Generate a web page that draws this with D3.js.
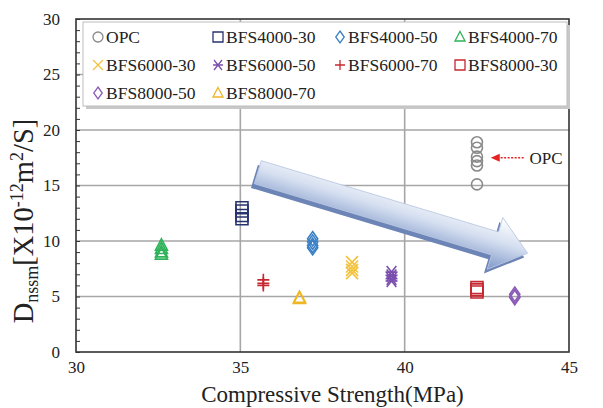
<!DOCTYPE html>
<html>
<head>
<meta charset="utf-8">
<script src="https://cdn.jsdelivr.net/npm/d3@7"></script>
<style>
  body { margin: 0; background: #fff; }
  svg { display: block; }
  text { font-family: "Liberation Serif", "DejaVu Serif", serif; fill: #222; }
</style>
</head>
<body>
<svg id="chart" width="603" height="408"></svg>
<script>
// data
let seriesNames = ['OPC', 'BFS4000-30', 'BFS4000-50', 'BFS4000-70', 'BFS6000-30',
                   'BFS6000-50', 'BFS6000-70', 'BFS8000-30', 'BFS8000-50', 'BFS8000-70']
let strength = [42.2, 35.05, 37.2, 32.6, 38.4, 39.6, 35.7, 42.2, 43.35, 36.8]
let diffusion = [
  [18.9, 18.4, 17.6, 17.2, 16.8, 15.1],
  [13.0, 12.7, 12.3, 12.0],
  [10.2, 9.9, 9.6, 9.4],
  [9.6, 9.3, 9.0, 8.8],
  [8.1, 7.7, 7.4, 7.1],
  [7.2, 6.9, 6.6, 6.4],
  [6.5, 6.2, 6.0],
  [5.8, 5.6, 5.4],
  [5.2, 5.0, 4.9],
  [4.9, 4.8]
]
let xTicks = [30, 35, 40, 45]
let yTicks = [0, 5, 10, 15, 20, 25, 30]

// styles
let colors = ['#8a8a8a', '#283470', '#3a80c6', '#2eb25a', '#f3c23c',
              '#7b4fae', '#c62832', '#c62832', '#8a5cb8', '#f0b624']
let shapes = ['circle', 'square', 'diamond', 'triangle', 'x',
              'asterisk', 'plus', 'square', 'diamond', 'triangle']

let svg = d3.select('#chart')
let plotL = 76, plotT = 19, plotR = 569, plotB = 352

let xScale = d3.scaleLinear().domain([30, 45]).range([plotL, plotR])
let yScale = d3.scaleLinear().domain([0, 30]).range([plotB, plotT])

// marker path, r = half size
let markerPath = (shape, r) => {
  if (shape === 'circle') {
    return d3.symbol(d3.symbolCircle, Math.PI * r * r)()
  } else if (shape === 'square') {
    return `M${-r},${-r}H${r}V${r}H${-r}Z`
  } else if (shape === 'diamond') {
    return `M0,${-r * 1.2}L${r * 0.85},0L0,${r * 1.2}L${-r * 0.85},0Z`
  } else if (shape === 'triangle') {
    return `M0,${-r * 1.1}L${r},${r * 0.8}L${-r},${r * 0.8}Z`
  } else if (shape === 'x') {
    return `M${-r},${-r}L${r},${r}M${r},${-r}L${-r},${r}`
  } else if (shape === 'plus') {
    return `M${-r},0H${r}M0,${-r}V${r}`
  } else {
    return `M${-r * 0.8},${-r}L${r * 0.8},${r}M${r * 0.8},${-r}L${-r * 0.8},${r}M${-r},0H${r}`
  }
}

// grid
svg.append('g')
   .selectAll('line')
   .data(yTicks.filter(d => d > 0 && d < 30))
   .enter()
   .append('line')
   .attr('x1', plotL).attr('x2', plotR)
   .attr('y1', d => yScale(d)).attr('y2', d => yScale(d))
   .attr('stroke', '#a6a6a6').attr('stroke-width', 1.6)
svg.append('g')
   .selectAll('line')
   .data(xTicks.filter(d => d > 30 && d < 45))
   .enter()
   .append('line')
   .attr('y1', plotT).attr('y2', plotB)
   .attr('x1', d => xScale(d)).attr('x2', d => xScale(d))
   .attr('stroke', '#a6a6a6').attr('stroke-width', 1.6)

// minor ticks on the y axis
let yAxis = d3.axisLeft(yScale).tickValues(d3.range(0, 31)).tickSize(-4).tickFormat('')
let gy = svg.append('g').attr('transform', `translate(${plotL},0)`).call(yAxis)
gy.select('.domain').remove()
gy.selectAll('line').attr('stroke', '#333')

// y tick labels
let gyl = svg.append('g').attr('transform', `translate(${plotL},0)`)
             .call(d3.axisLeft(yScale).tickValues(yTicks).tickSize(0).tickPadding(16).tickFormat(d3.format('d')))
gyl.select('.domain').remove()
gyl.selectAll('text').style('font-size', '17px').style('font-family', '"Liberation Serif", serif').attr('fill', '#222')

// x tick labels
let gxl = svg.append('g').attr('transform', `translate(0,${plotB})`)
             .call(d3.axisBottom(xScale).tickValues(xTicks).tickSize(0).tickPadding(9).tickFormat(d3.format('d')))
gxl.select('.domain').remove()
gxl.selectAll('text').style('font-size', '17px').style('font-family', '"Liberation Serif", serif').attr('fill', '#222')

// the big blue arrow
let arrowFrom = [35.53, 16.2]
let arrowTo = [43.74, 8.9]
let defs = svg.append('defs')
let grad = defs.append('linearGradient').attr('id', 'arrowFill')
               .attr('x1', 0).attr('y1', 0).attr('x2', 0).attr('y2', 1)
grad.append('stop').attr('offset', '0%').attr('stop-color', '#ffffff')
grad.append('stop').attr('offset', '45%').attr('stop-color', '#d5dff0')
grad.append('stop').attr('offset', '100%').attr('stop-color', '#7f98c8')

let drawArrow = () => {
  let x0 = xScale(arrowFrom[0]), y0 = yScale(arrowFrom[1])
  let x1 = xScale(arrowTo[0]), y1 = yScale(arrowTo[1])
  let ang = Math.atan2(y1 - y0, x1 - x0) * 180 / Math.PI
  let len = Math.hypot(x1 - x0, y1 - y0)
  let hw = 12, headW = 27, headL = 34
  let pts = [[0, -hw], [len - headL, -hw], [len - headL, -headW], [len, 0],
             [len - headL, headW], [len - headL, hw], [0, hw]]
  let g = svg.append('g').attr('transform', `translate(${x0},${y0}) rotate(${ang})`)
  g.append('path')
   .attr('d', d3.line()(pts) + 'Z')
   .attr('transform', 'translate(-2,5)')
   .attr('fill', '#6d84b6')
  g.append('path')
   .attr('d', d3.line()(pts) + 'Z')
   .attr('fill', 'url(#arrowFill)')
   .attr('stroke', '#b8c7e2').attr('stroke-width', 0.8)
}
drawArrow()

// points
seriesNames.forEach((name, i) => {
  svg.append('g')
     .selectAll('path')
     .data(diffusion[i])
     .enter()
     .append('path')
     .attr('d', markerPath(shapes[i], shapes[i] === 'circle' ? 5.5 : 6))
     .attr('transform', d => `translate(${xScale(strength[i])},${yScale(d)})`)
     .attr('fill', 'none')
     .attr('stroke', colors[i])
     .attr('stroke-width', 1.6)
})

// OPC pointer
let opcLabel = [43.8, 17.5]
svg.append('line')
   .attr('x1', xScale(43.62)).attr('x2', xScale(42.78))
   .attr('y1', yScale(opcLabel[1])).attr('y2', yScale(opcLabel[1]))
   .attr('stroke', '#e52323').attr('stroke-width', 1.3).attr('stroke-dasharray', '2,1.5')
svg.append('path')
   .attr('d', d3.line()([[0, 0], [9, -4], [9, 4]]) + 'Z')
   .attr('transform', `translate(${xScale(42.62)},${yScale(opcLabel[1])})`)
   .attr('fill', '#e52323')
svg.append('text')
   .attr('x', xScale(opcLabel[0])).attr('y', yScale(opcLabel[1]) + 6)
   .style('font-size', '17px')
   .text('OPC')

// frame
svg.append('rect')
   .attr('x', plotL).attr('y', plotT)
   .attr('width', plotR - plotL).attr('height', plotB - plotT)
   .attr('fill', 'none').attr('stroke', '#333').attr('stroke-width', 1.6)

// legend
let lg = svg.append('g')
lg.append('rect').attr('x', 86).attr('y', 25).attr('width', 484).attr('height', 84).attr('fill', '#c8c8c8')
lg.append('rect').attr('x', 83).attr('y', 22).attr('width', 484).attr('height', 84)
  .attr('fill', '#fff').attr('stroke', '#bdbdbd').attr('stroke-width', 1)
let colX = [98, 218, 340, 460]
let rowY = [37, 65, 93]
let items = lg.selectAll('g.item')
              .data(seriesNames)
              .enter()
              .append('g')
              .attr('class', 'item')
              .attr('transform', (d, i) => `translate(${colX[i % 4]},${rowY[Math.floor(i / 4)]})`)
items.append('path')
     .attr('d', (d, i) => markerPath(shapes[i], 5))
     .attr('fill', 'none')
     .attr('stroke', (d, i) => colors[i])
     .attr('stroke-width', 1.3)
items.append('text')
     .attr('x', 8).attr('y', 6)
     .style('font-size', '17.5px')
     .text(d => d)

// axis titles
svg.append('text')
   .attr('x', (plotL + plotR) / 2 + 10).attr('y', 402)
   .attr('text-anchor', 'middle')
   .style('font-size', '23px')
   .text('Compressive Strength(MPa)')

let yt = svg.append('text')
            .attr('transform', 'translate(33,221) rotate(-90)')
            .attr('text-anchor', 'middle')
            .style('font-size', '28.5px')
yt.append('tspan').text('D')
yt.append('tspan').attr('dy', 5).style('font-size', '18px').text('nssm')
yt.append('tspan').attr('dy', -5).text('[X10')
yt.append('tspan').attr('dy', -10).style('font-size', '18px').text('-12')
yt.append('tspan').attr('dy', 10).text('m')
yt.append('tspan').attr('dy', -10).style('font-size', '18px').text('2')
yt.append('tspan').attr('dy', 10).text('/S]')
</script>
</body>
</html>
